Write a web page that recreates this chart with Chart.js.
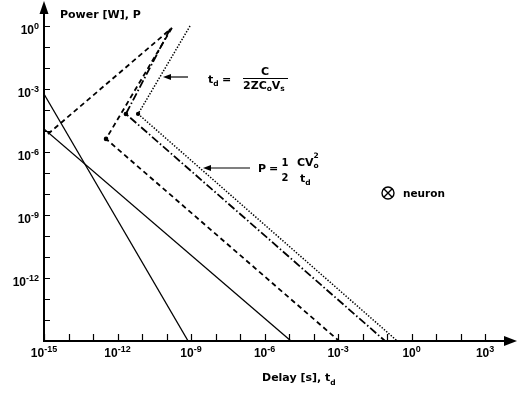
<!DOCTYPE html>
<html>
<head>
<meta charset="utf-8">
<script src="https://cdn.jsdelivr.net/npm/chart.js@4/dist/chart.umd.min.js"></script>
<style>
  html, body { margin: 0; padding: 0; background: #fff; }
  canvas { display: block; }
</style>
</head>
<body>
<canvas id="chart" width="518" height="394"></canvas>
<script>
// delay t_d [s] against power P [W], both log scales
const steepLine    = [[1e-15, 5.8e-4], [7.6e-10, 1e-15]];
const shallowLine  = [[1e-15, 1.25e-5], [1.2e-5, 1e-15]];
const risingDashed = [[1.45e-15, 7.2e-6], [1.65e-10, 0.8]];
const dashedV      = [[1.65e-10, 0.8], [3.4e-13, 4.2e-6], [1.1e-3, 1e-15]];
const dashDotV     = [[1.4e-10, 0.72], [2.2e-12, 6.5e-5], [8.3e-2, 1e-15]];
const dottedV      = [[9.1e-10, 1], [6.9e-12, 6.5e-5], [0.26, 1e-15]];

const xDecades = [-15, -14, -13, -12, -11, -10, -9, -8, -7, -6, -5, -4, -3, -2, -1, 0, 1, 2, 3];
const yDecades = [-15, -14, -13, -12, -11, -10, -9, -8, -7, -6, -5, -4, -3, -2, -1, 0];
const xLabelExps = [-15, -12, -9, -6, -3, 0, 3];
const yLabelExps = [-12, -9, -6, -3, 0];

const TICK_FONT = '"Liberation Sans", Arial, sans-serif';
const TEXT_FONT = '"DejaVu Sans", sans-serif';

const toPts = arr => arr.map(([x, y]) => ({ x, y }));

function lineSet(points, width, dash, corner) {
  return {
    data: toPts(points),
    showLine: true,
    borderColor: '#000',
    backgroundColor: '#000',
    borderWidth: width,
    borderDash: dash,
    pointRadius: points.map((_, i) => (corner && i === 1 ? 1.4 : 0)),
    pointHoverRadius: 0,
  };
}

// "10" with a raised exponent
function powerLabel(ctx, exp, x, y, align) {
  ctx.font = `bold 12px ${TICK_FONT}`;
  const wBase = ctx.measureText('10').width;
  ctx.font = `bold 9px ${TICK_FONT}`;
  const e = String(exp);
  const wExp = ctx.measureText(e).width;
  const left = align === 'right' ? x - wBase - wExp : x - (wBase + wExp) / 2;
  ctx.textAlign = 'left';
  ctx.textBaseline = 'alphabetic';
  ctx.font = `bold 12px ${TICK_FONT}`;
  ctx.fillText('10', left, y);
  ctx.font = `bold 9px ${TICK_FONT}`;
  ctx.fillText(e, left + wBase, y - 5);
}

function text(ctx, s, x, y, size, align) {
  ctx.font = `bold ${size}px ${TEXT_FONT}`;
  ctx.textAlign = align || 'left';
  ctx.textBaseline = 'alphabetic';
  ctx.fillText(s, x, y);
  return ctx.measureText(s).width;
}

function arrowLeft(ctx, x0, x1, y) {
  ctx.lineWidth = 1.2;
  ctx.beginPath();
  ctx.moveTo(x0, y);
  ctx.lineTo(x1 + 6, y);
  ctx.stroke();
  ctx.beginPath();
  ctx.moveTo(x1, y);
  ctx.lineTo(x1 + 8, y - 3);
  ctx.lineTo(x1 + 8, y + 3);
  ctx.closePath();
  ctx.fill();
}

const axesAndNotes = {
  id: 'axesAndNotes',
  afterDatasetsDraw(chart) {
    const { ctx, chartArea: a, scales: { x, y } } = chart;
    ctx.save();
    ctx.fillStyle = '#000';
    ctx.strokeStyle = '#000';

    // axis lines
    ctx.lineWidth = 2;
    ctx.beginPath();
    ctx.moveTo(a.left, a.bottom);
    ctx.lineTo(a.left, 12);
    ctx.moveTo(a.left - 1, a.bottom);
    ctx.lineTo(507, a.bottom);
    ctx.stroke();
    // arrow heads
    ctx.beginPath();
    ctx.moveTo(a.left, 1);
    ctx.lineTo(a.left - 4.5, 14);
    ctx.lineTo(a.left + 4.5, 14);
    ctx.closePath();
    ctx.fill();
    ctx.beginPath();
    ctx.moveTo(517, a.bottom);
    ctx.lineTo(504, a.bottom - 5);
    ctx.lineTo(504, a.bottom + 5);
    ctx.closePath();
    ctx.fill();

    // decade ticks
    ctx.lineWidth = 1.2;
    ctx.beginPath();
    xDecades.forEach(d => {
      const px = Math.round(x.getPixelForValue(Math.pow(10, d))) + 0.5;
      ctx.moveTo(px, a.bottom);
      ctx.lineTo(px, a.bottom - 7);
    });
    yDecades.forEach(d => {
      const py = Math.round(y.getPixelForValue(Math.pow(10, d))) + 0.5;
      ctx.moveTo(a.left, py);
      ctx.lineTo(a.left + 6, py);
    });
    ctx.stroke();

    // tick labels
    xLabelExps.forEach(d => powerLabel(ctx, d, x.getPixelForValue(Math.pow(10, d)), a.bottom + 16, 'center'));
    yLabelExps.forEach(d => powerLabel(ctx, d, 39, y.getPixelForValue(Math.pow(10, d)) + 8, 'right'));

    // axis titles
    text(ctx, 'Power [W], P', 60, 18, 11);
    const wDelay = text(ctx, 'Delay [s], t', 262, 381, 11);
    text(ctx, 'd', 262 + wDelay, 385, 7.5);

    // delay annotation
    arrowLeft(ctx, 188, 163, 77);
    const wt = text(ctx, 't', 208, 83, 11);
    text(ctx, 'd', 208 + wt, 86, 7.5);
    text(ctx, '=', 222, 83, 11);
    text(ctx, 'C', 265, 75, 11, 'center');
    ctx.lineWidth = 1.2;
    ctx.beginPath();
    ctx.moveTo(243, 78.5);
    ctx.lineTo(288, 78.5);
    ctx.stroke();
    let cx = 243;
    cx += text(ctx, '2ZC', cx, 89, 11);
    cx += text(ctx, 'o', cx, 91, 7.5);
    cx += text(ctx, 'V', cx, 89, 11);
    text(ctx, 's', cx, 91, 7.5);

    // power annotation
    arrowLeft(ctx, 250, 203, 168);
    text(ctx, 'P', 258, 172, 11);
    text(ctx, '=', 269, 172, 11);
    text(ctx, '1', 285, 166, 10, 'center');
    text(ctx, '2', 285, 181, 10, 'center');
    const wcv = text(ctx, 'CV', 297, 166, 11);
    text(ctx, '2', 297 + wcv, 158, 7.5);
    text(ctx, 'o', 297 + wcv, 168, 7.5);
    const wt2 = text(ctx, 't', 300, 182, 11);
    text(ctx, 'd', 300 + wt2, 185, 7.5);

    // neuron marker
    const nx = 388, ny = 193, r = 6;
    ctx.lineWidth = 1.4;
    ctx.beginPath();
    ctx.arc(nx, ny, r, 0, Math.PI * 2);
    const k = r * 0.7071;
    ctx.moveTo(nx - k, ny - k);
    ctx.lineTo(nx + k, ny + k);
    ctx.moveTo(nx + k, ny - k);
    ctx.lineTo(nx - k, ny + k);
    ctx.stroke();
    text(ctx, 'neuron', 403, 197, 10.5);

    ctx.restore();
  }
};

new Chart(document.getElementById('chart'), {
  type: 'scatter',
  data: {
    datasets: [
      lineSet(steepLine, 1.3, [], false),
      lineSet(shallowLine, 1.3, [], false),
      lineSet(risingDashed, 1.8, [5, 3.5], false),
      lineSet(dashedV, 1.8, [5, 3.5], true),
      lineSet(dashDotV, 1.8, [8, 2.5, 1.5, 2.5], true),
      lineSet(dottedV, 1.5, [1.4, 1.6], true),
    ],
  },
  options: {
    responsive: false,
    animation: false,
    devicePixelRatio: 1,
    layout: { padding: { left: 44, right: 0, top: 5, bottom: 53 } },
    scales: {
      x: { type: 'logarithmic', display: false, min: 1e-15, max: 2.2e4 },
      y: { type: 'logarithmic', display: false, min: 1e-15, max: 10 },
    },
    plugins: {
      legend: { display: false },
      tooltip: { enabled: false },
    },
  },
  plugins: [axesAndNotes],
});
</script>
</body>
</html>
